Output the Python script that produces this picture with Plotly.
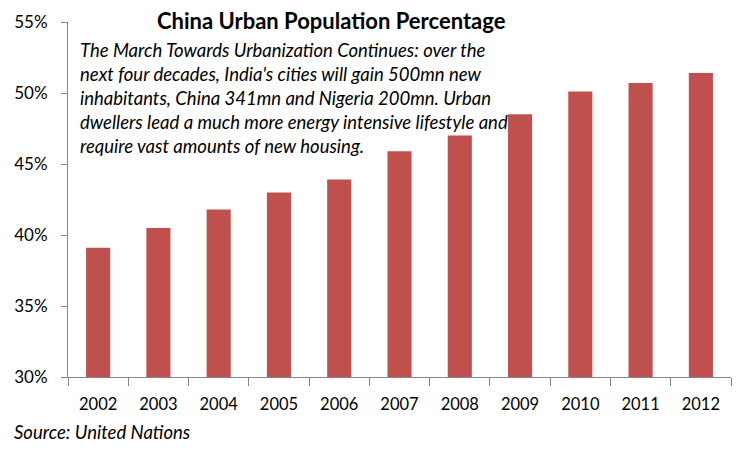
import plotly.graph_objects as go

# China urban population share (%)
years = ["2002", "2003", "2004", "2005", "2006", "2007",
         "2008", "2009", "2010", "2011", "2012"]
urban_pct = [39.1, 40.5, 41.8, 43.0, 43.9, 45.9,
             47.0, 48.5, 50.1, 50.7, 51.4]

y_ticks = [30, 35, 40, 45, 50, 55]
y_tick_labels = ["30%", "35%", "40%", "45%", "50%", "55%"]

note = ("The March Towards Urbanization Continues: over the<br>"
        "next four decades, India's cities will gain 500mn new<br>"
        "inhabitants, China 341mn and Nigeria 200mn. Urban<br>"
        "dwellers lead a much more energy intensive lifestyle and<br>"
        "require vast amounts of new housing.")

FONT = "Lato"
AXIS_GREY = "#868686"

fig = go.Figure(
    go.Bar(
        x=years,
        y=urban_pct,
        base=0,
        marker=dict(color="#C0504D", line=dict(width=0)),
        hovertemplate="%{x}: %{y:.1f}%<extra></extra>",
    )
)

# page has an 8px body margin, so margins are trimmed to compensate
fig.update_layout(
    width=750,
    height=451,
    margin=dict(l=60, r=27, t=14, b=82, autoexpand=False),
    paper_bgcolor="white",
    plot_bgcolor="white",
    bargap=0.6,
    showlegend=False,
    font=dict(family=FONT, color="black"),
    title=dict(
        text="<b>China Urban Population Percentage</b>",
        x=0.431, xref="container", xanchor="center",
        y=0.971, yref="container", yanchor="middle",
        font=dict(family=FONT, size=22, color="black"),
    ),
)

fig.update_yaxes(
    range=[30, 55],
    tickvals=y_ticks,
    ticktext=y_tick_labels,
    automargin=False,
    showgrid=False,
    zeroline=False,
    showline=True,
    linecolor=AXIS_GREY,
    linewidth=1,
    ticks="outside",
    ticklen=6,
    tickcolor=AXIS_GREY,
    ticklabelstandoff=10,
    tickfont=dict(size=17, family=FONT),
)

fig.update_xaxes(
    automargin=False,
    showgrid=False,
    showline=True,
    linecolor=AXIS_GREY,
    linewidth=1,
    ticks="outside",
    tickson="boundaries",
    ticklen=8,
    tickcolor=AXIS_GREY,
    ticklabelstandoff=12,
    tickfont=dict(size=16.5, family=FONT),
)

fig.add_annotation(
    text=note,
    xref="paper", yref="paper",
    x=10 / 663, y=0.957,
    xanchor="left", yanchor="top",
    align="left",
    showarrow=False,
    font=dict(family=FONT, size=18.5, color="black", style="italic"),
)

fig.add_annotation(
    text="<i>Source: United Nations</i>",
    xref="paper", yref="paper",
    x=-56 / 663, y=-55 / 355,
    xanchor="left", yanchor="middle",
    align="left",
    showarrow=False,
    font=dict(family=FONT, size=18.5, color="black"),
)

fig.write_html("out.html")
